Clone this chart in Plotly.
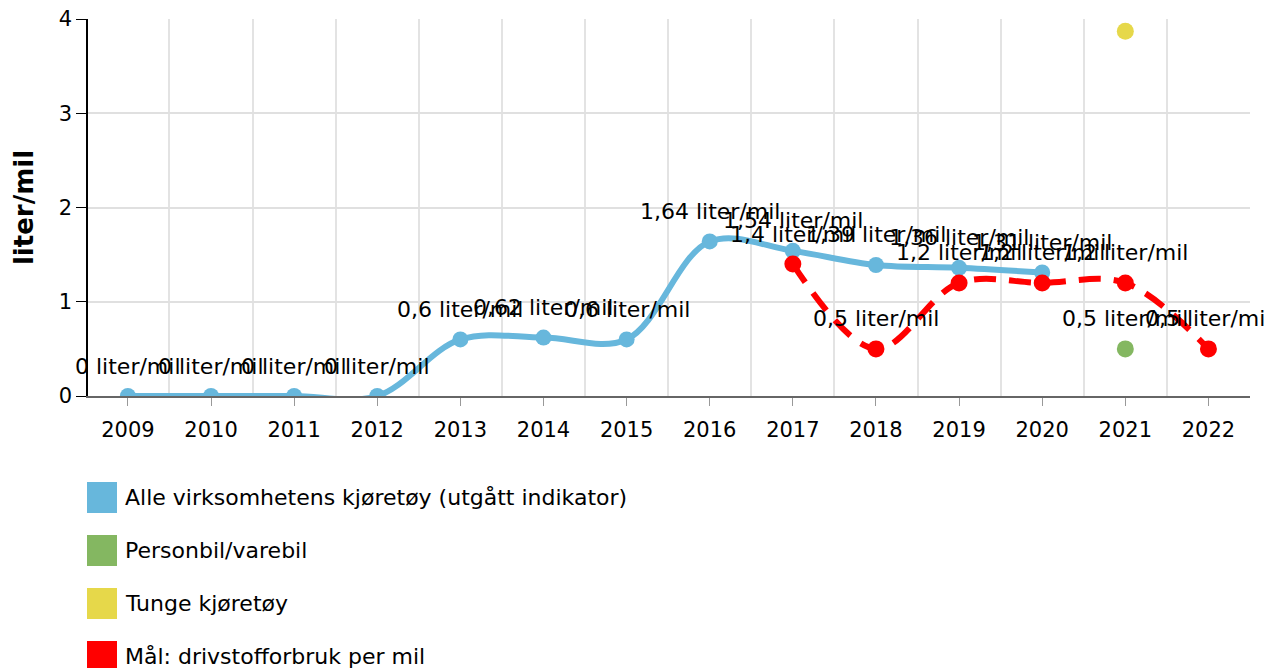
import plotly.graph_objects as go

years = [2009, 2010, 2011, 2012, 2013, 2014, 2015, 2016, 2017, 2018, 2019, 2020, 2021, 2022]

# Alle virksomhetens kjøretøy (2009-2020)
alle_years = years[:12]
alle_vals = [0, 0, 0, 0, 0.6, 0.62, 0.6, 1.64, 1.54, 1.39, 1.36, 1.31]

# Mål: drivstofforbruk per mil (2017-2022)
maal_years = years[8:]
maal_vals = [1.4, 0.5, 1.2, 1.2, 1.2, 0.5]

person_years = [2021]
person_vals = [0.5]

tunge_years = [2021]
tunge_vals = [3.87]

names = ["Alle virksomhetens kjøretøy (utgått indikator)", "Personbil/varebil",
         "Tunge kjøretøy", "Mål: drivstofforbruk per mil"]
colors = ["#67b7dc", "#84b761", "#e6d84a", "#ff0000"]

FONT = "DejaVu Sans"
FS = 22

# plot area in screen pixels; the page body adds ~8px margin
OFF = 8
L, T, R, B = 88, 19, 1250, 396
W, H = R - L, B - T


def px_x(p):
    return (p - L) / W


def px_y(p):
    return (B - p) / H


def lbl(v):
    return f"{v:g}".replace(".", ",") + " liter/mil"


fig = go.Figure()

fig.add_trace(go.Scatter(x=alle_years, y=alle_vals, mode="lines+markers",
                         line=dict(color=colors[0], width=6, shape="spline"),
                         marker=dict(size=16, color=colors[0]), showlegend=False))
fig.add_trace(go.Scatter(x=maal_years, y=maal_vals, mode="lines+markers",
                         line=dict(color=colors[3], width=6, shape="spline", dash="22px,13px"),
                         marker=dict(size=17, color=colors[3]), showlegend=False))
fig.add_trace(go.Scatter(x=person_years, y=person_vals, mode="markers",
                         marker=dict(size=17, color=colors[1]), showlegend=False))
fig.add_trace(go.Scatter(x=tunge_years, y=tunge_vals, mode="markers",
                         marker=dict(size=17, color=colors[2]), showlegend=False))

annotations = []
for xs, ys in [(alle_years, alle_vals), (maal_years, maal_vals), (person_years, person_vals)]:
    for x, y in zip(xs, ys):
        annotations.append(dict(x=x, y=y, text=lbl(y), showarrow=False, yshift=30,
                                font=dict(family=FONT, size=FS, color="#000")))

# legend: coloured squares with text below the plot
shapes = []
for i, (n, c) in enumerate(zip(names, colors)):
    top = 482 + 53 * i
    shapes.append(dict(type="rect", xref="paper", yref="paper",
                       x0=px_x(87), x1=px_x(117), y0=px_y(top + 31), y1=px_y(top),
                       fillcolor=c, line=dict(width=0)))
    annotations.append(dict(xref="paper", yref="paper", x=px_x(123), y=px_y(top + 15.5),
                            xanchor="left", yanchor="middle", text=n, showarrow=False,
                            font=dict(family=FONT, size=FS, color="#000")))

fig.update_layout(
    width=1274, height=668,
    margin=dict(l=L - OFF, r=1274 - R + OFF, t=T - OFF, b=668 - B + OFF),
    paper_bgcolor="white", plot_bgcolor="white",
    font=dict(family=FONT, size=FS, color="#000"),
    showlegend=False,
    shapes=shapes,
    annotations=annotations,
    xaxis=dict(range=[2008.52, 2022.5], tickvals=years, showgrid=False, zeroline=False,
               automargin=False,
               showline=True, linecolor="#666", linewidth=1.5,
               ticks="outside", ticklen=8, tickcolor="#999", ticklabelstandoff=6,
               minor=dict(tick0=2008.5, dtick=1, showgrid=True, gridcolor="#e3e3e3", gridwidth=1.5),
               tickfont=dict(size=21)),
    yaxis=dict(range=[0, 4], tickvals=[0, 1, 2, 3, 4], showgrid=True, gridcolor="#e0e0e0",
               automargin=False, ticklabeloverflow="allow",
               gridwidth=1.5, zeroline=False, showline=True, linecolor="#000", linewidth=1.5,
               ticks="outside", ticklen=10, tickcolor="#000", tickfont=dict(size=21),
               title=dict(text="<b>liter/mil</b>", font=dict(size=26), standoff=18)),
)

fig.write_html("out.html")
